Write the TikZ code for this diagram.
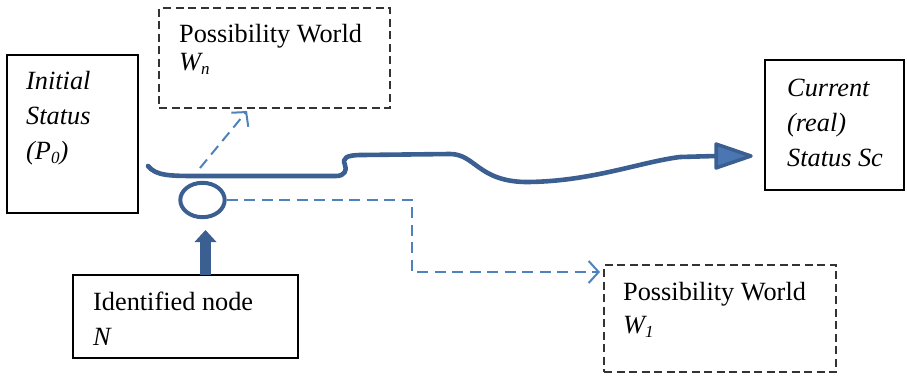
\documentclass[tikz,border=0pt]{standalone}
\usepackage{fontspec}
\setmainfont{Liberation Serif}
\usetikzlibrary{arrows.meta,calc,shapes.geometric}
\definecolor{darkline}{RGB}{60,95,145}
\definecolor{lightline}{RGB}{79,129,189}
\definecolor{headfill}{RGB}{74,118,178}
\newcommand\mysub[1]{\raisebox{-4pt}{\fontsize{17}{17}\selectfont #1}}
\begin{document}
\begin{tikzpicture}[x=1pt,y=-1pt,
  solidbox/.style={draw=black, line width=1.4pt, inner sep=0pt, outer sep=0pt, anchor=north west},
  dashbox/.style={solidbox, draw=black!80, dash pattern=on 8pt off 4.5pt},
  txt/.style={anchor=base west, inner sep=0pt, font=\fontsize{26.3}{32}\selectfont},
  flow/.style={draw=darkline, line width=4.6pt, line cap=round, line join=round},
  dashflow/.style={draw=lightline, line width=2pt, dash pattern=on 11pt off 6.5pt,
     -{Straight Barb[length=10pt,width=22pt,line width=2pt]}}
]
\useasboundingbox (0,0) rectangle (907,378);

% boxes
\node[solidbox, minimum width=131pt, minimum height=158pt] (init) at (7,55) {};
\node[dashbox, minimum width=231pt, minimum height=100pt] (wn) at (159,8) {};
\node[solidbox, minimum width=139pt, minimum height=130pt] (cur) at (765,60) {};
\node[solidbox, minimum width=225pt, minimum height=83pt] (idn) at (73,275) {};
\node[dashbox, minimum width=232pt, minimum height=107pt] (w1) at (604,265) {};

% texts
\node[txt] (t1) at (26,89) {\textit{Initial}};
\node[txt] (t2) at (26,124) {\textit{Status}};
\node[txt] (t3) at (26,159) {\textit{(P\mysub{0})}};
\node[txt] (t4) at (179,42) {Possibility World};
\node[txt] (t5) at (179,70) {\textit{W\mysub{n}}};
\node[txt] (t6) at (787,96) {\textit{Current}};
\node[txt] (t7) at (787,131) {\textit{(real)}};
\node[txt] (t8) at (787,166) {\textit{Status Sc}};
\node[txt] (t9) at (93,310) {Identified node};
\node[txt] (t10) at (93,345) {\textit{N}};
\node[txt] (t11) at (623,300) {Possibility World};
\node[txt] (t12) at (623,333) {\textit{W\mysub{1}}};

% identified node circle
\node[draw=darkline, line width=4pt, ellipse, minimum width=44.4pt, minimum height=34.4pt, inner sep=0pt] (circ) at (202.5,200) {};

% main wavy flow
\coordinate (cs) at (148,166);
\coordinate (ce) at (716,156);
\coordinate (tip) at (751,156);
\draw[flow]
  (cs) .. controls (156,176) and (170,176) .. (200,176) -- (336,176)
  .. controls (345,176) and (347,170) .. (345,165)
  .. controls (342,158) and (346,155) .. (362,155)
  -- (450,154)
  .. controls (475,154) and (478,181) .. (525,182)
  .. controls (590,182) and (640,162) .. (680,157) -- (ce);
\draw[draw=darkline, fill=headfill, line width=3.5pt, line join=round]
  ($(ce)+(0,-12)$) -- (tip) -- ($(ce)+(0,12)$) -- cycle;

% dashed arrows
\coordinate (fork) at (200,168);
\coordinate (wnin) at (247,111);
\draw[dashflow] (fork) -- (wnin);
\coordinate (w1in) at (600,272);
\draw[dashflow] (circ.east) -- (412,200) |- (w1in);

% block arrow from identified node box to circle
\coordinate (nb) at ($(idn.north west)+(132.5,0)$);
\coordinate (nh) at (205.5,241);
\draw[darkline, line width=11.5pt] (nb) -- (nh);
\fill[darkline] (194.5,242) -- (205.5,230) -- (216.5,242) -- cycle;
\end{tikzpicture}
\end{document}
